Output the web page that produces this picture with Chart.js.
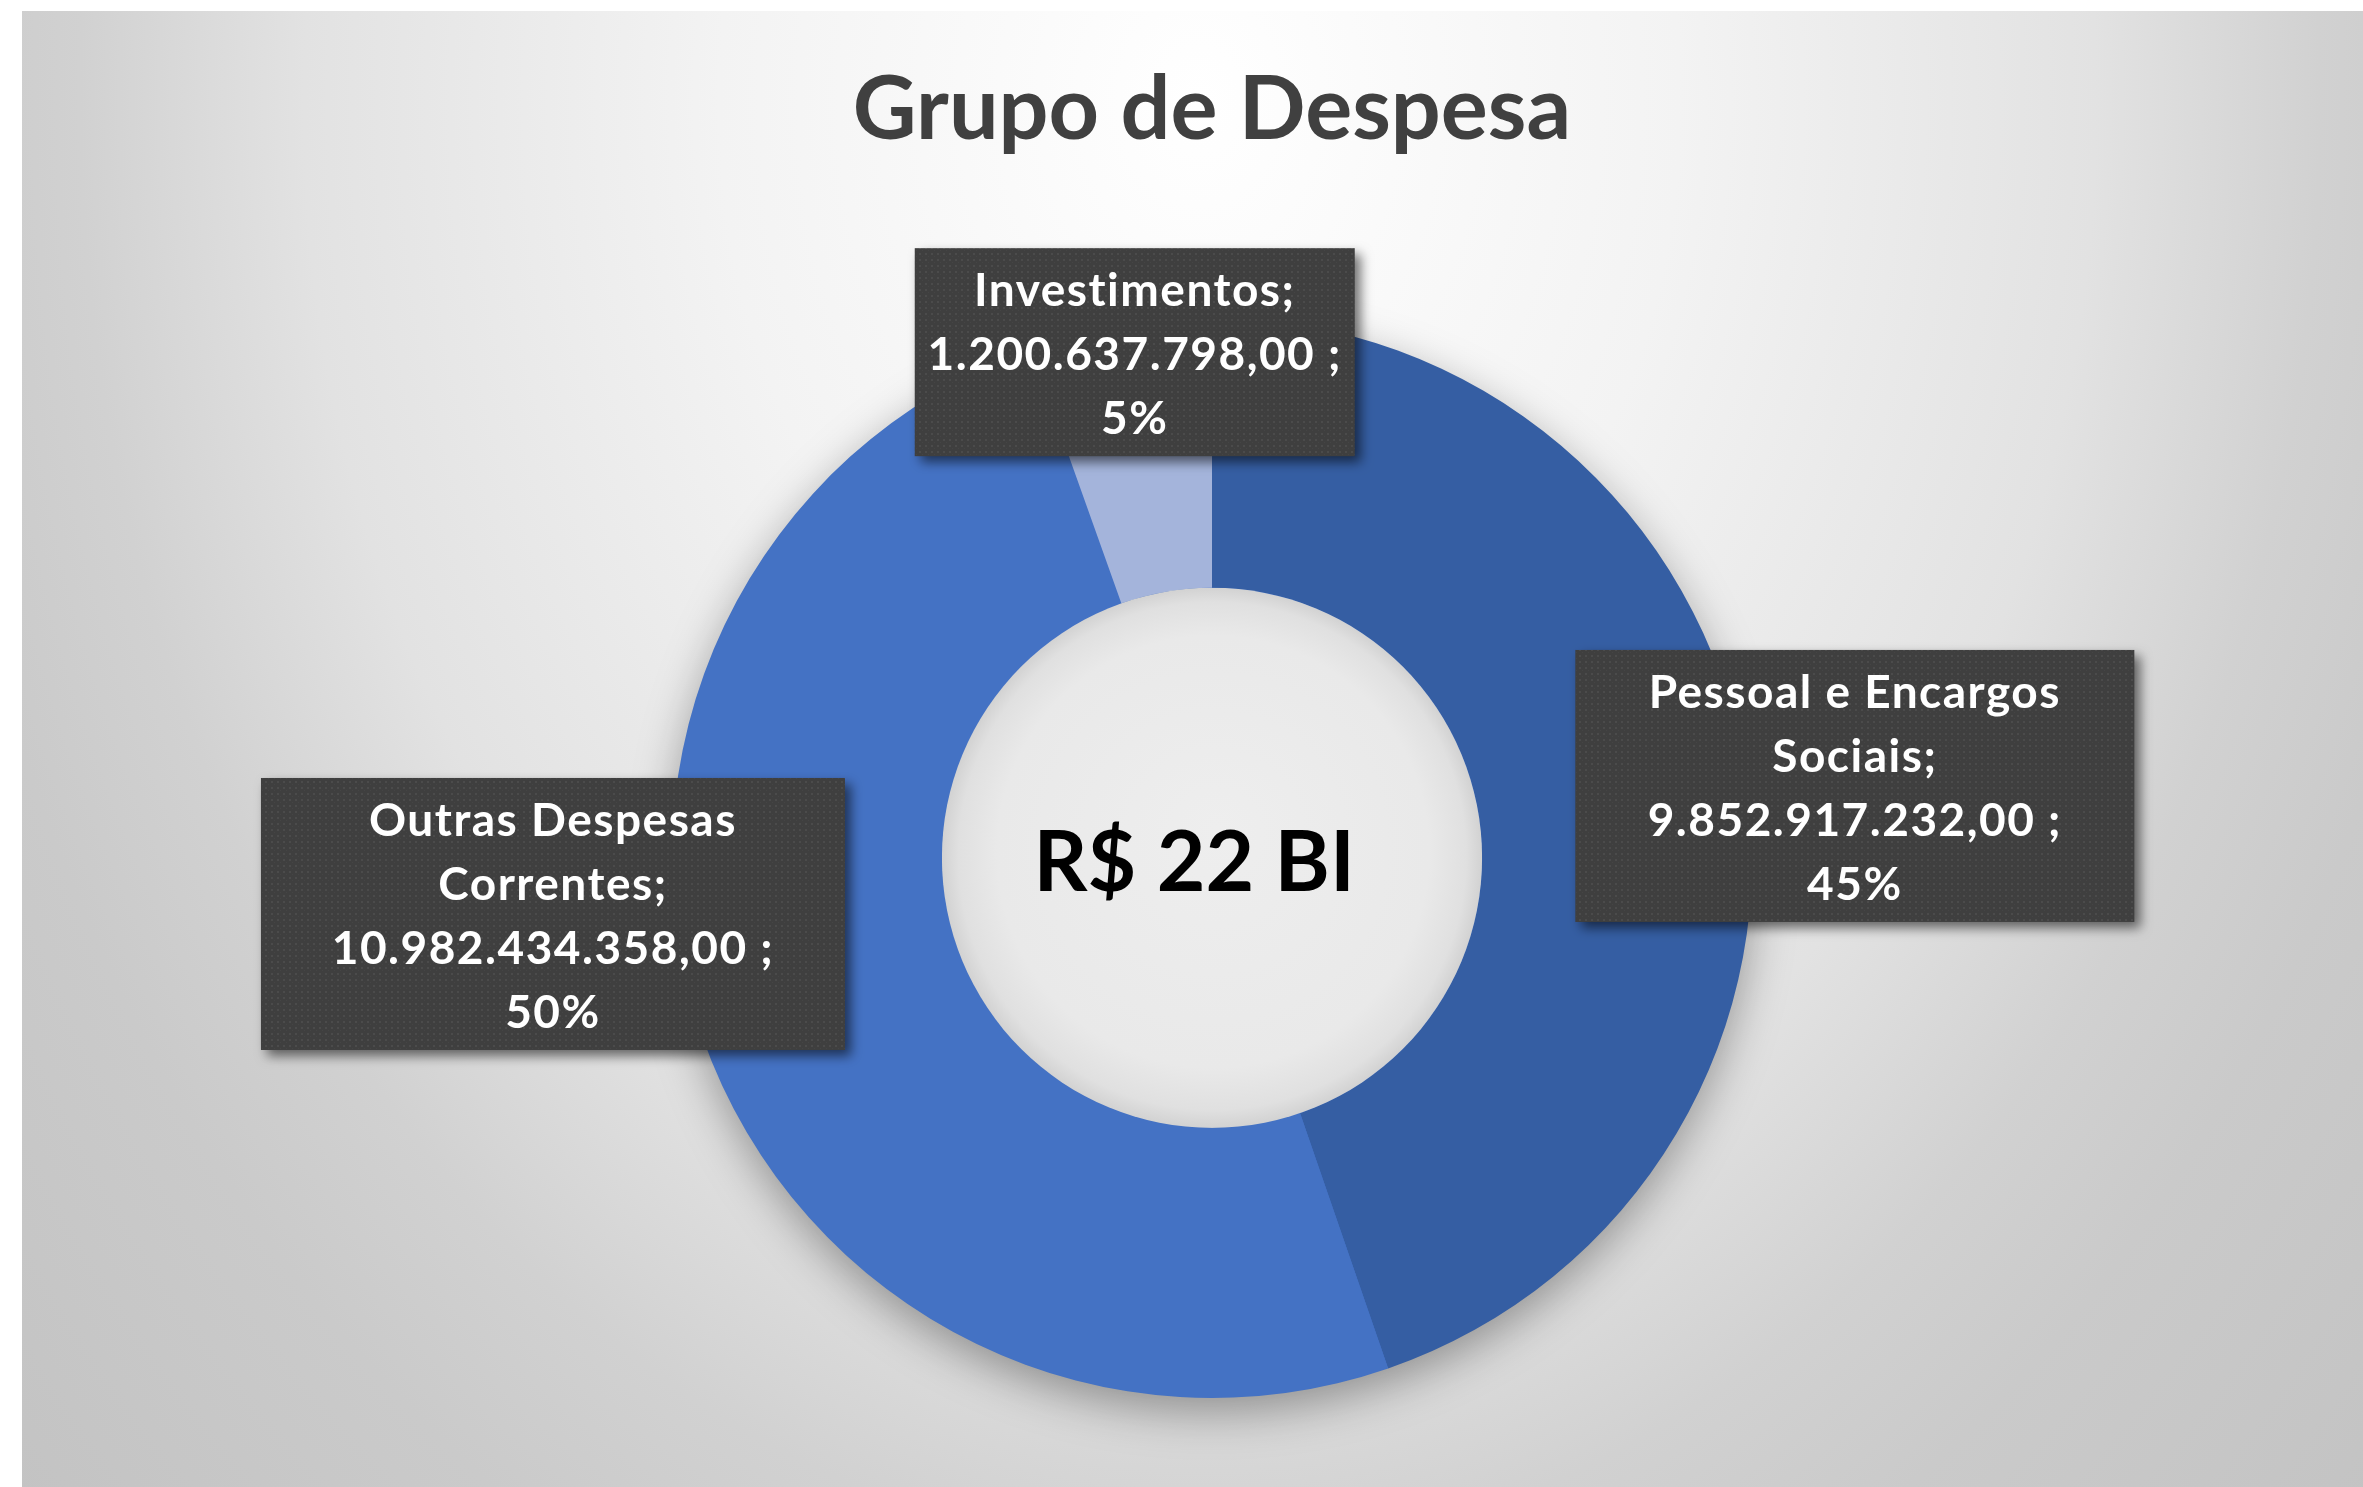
<!DOCTYPE html>
<html>
<head>
<meta charset="utf-8">
<script src="https://cdn.jsdelivr.net/npm/chart.js@4.4.1/dist/chart.umd.min.js"></script>
<style>
  html, body { margin: 0; padding: 0; background: #ffffff; }
  #wrap { width: 2363px; height: 1487px; }
</style>
</head>
<body>
<div id="wrap"><canvas id="c" width="2363" height="1487"></canvas></div>
<script>
// ---- DATA ----
const chartTitle = 'Grupo de Despesa';
const categories = ['Pessoal e Encargos Sociais', 'Outras Despesas Correntes', 'Investimentos'];
const values = [9852917232.00, 10982434358.00, 1200637798.00];
const sliceColors = ['#355EA3', '#4472C4', '#A4B4DB'];

// ---- LAYOUT (label box placement in units of the outer radius) ----
const labelLayout = [
  { dx: 1.190, dy: -0.133, w: 559 },
  { dx: -1.220, dy: 0.104, w: 584 },
  { dx: -0.143, dy: -0.936, w: 440 }
];

const total = values.reduce((a, b) => a + b, 0);
function fmtBR(v) {
  const parts = v.toFixed(2).split('.');
  return parts[0].replace(/\B(?=(\d{3})+(?!\d))/g, '.') + ',' + parts[1];
}
const centerText = 'R$ ' + Math.round(total / 1e9) + ' BI';

const FONT = 'Lato, "Open Sans", "DejaVu Sans", sans-serif';

function makePattern(ctx) {
  const p = document.createElement('canvas');
  p.width = 6; p.height = 6;
  const pc = p.getContext('2d');
  pc.fillStyle = '#3f3f3f';
  pc.fillRect(0, 0, 6, 6);
  pc.fillStyle = '#4b4b4b';
  pc.fillRect(1, 1, 2, 2);
  pc.fillStyle = '#454545';
  pc.fillRect(4, 4, 1, 1);
  return ctx.createPattern(p, 'repeat');
}

function wrapWords(ctx, text, maxW) {
  const words = text.split(' ');
  const lines = [];
  let cur = '';
  for (const w of words) {
    const test = cur ? cur + ' ' + w : w;
    if (ctx.measureText(test).width > maxW && cur) {
      lines.push(cur);
      cur = w;
    } else {
      cur = test;
    }
  }
  if (cur) lines.push(cur);
  return lines;
}

const decorPlugin = {
  id: 'decor',
  beforeDraw(chart) {
    const ctx = chart.ctx;
    const W = chart.width, H = chart.height;
    ctx.save();
    ctx.fillStyle = '#ffffff';
    ctx.fillRect(0, 0, W, H);
    ctx.beginPath();
    ctx.rect(22, 11, W - 22, H - 11);
    ctx.clip();
    ctx.translate(1200, 100);
    ctx.scale(1, 1.3);
    const g = ctx.createRadialGradient(0, 0, 0, 0, 0, 1600);
    g.addColorStop(0, '#ffffff');
    g.addColorStop(0.3, '#f3f3f3');
    g.addColorStop(0.56, '#e2e2e2');
    g.addColorStop(0.7, '#d1d1d1');
    g.addColorStop(0.8, '#cacaca');
    g.addColorStop(1, '#c3c3c3');
    ctx.fillStyle = g;
    ctx.fillRect(-1300, -200, 3000, 1400);
    ctx.restore();
  },
  beforeDatasetsDraw(chart) {
    const arc = chart.getDatasetMeta(0).data[0];
    if (!arc) return;
    const ctx = chart.ctx;
    ctx.save();
    ctx.shadowColor = 'rgba(0,0,0,0.35)';
    ctx.shadowBlur = 45;
    ctx.shadowOffsetY = 14;
    ctx.fillStyle = '#4472C4';
    ctx.beginPath();
    ctx.arc(arc.x, arc.y, arc.outerRadius - 1, 0, Math.PI * 2);
    ctx.fill();
    ctx.restore();
  },
  afterDatasetsDraw(chart) {
    const arc = chart.getDatasetMeta(0).data[0];
    if (!arc) return;
    const ctx = chart.ctx;
    const cx = arc.x, cy = arc.y, r = arc.innerRadius;
    ctx.save();
    ctx.beginPath();
    ctx.arc(cx, cy, r, 0, Math.PI * 2);
    ctx.clip();
    const g = ctx.createRadialGradient(cx + 5, cy - 30, 0, cx, cy, r);
    g.addColorStop(0, '#eeeeee');
    g.addColorStop(0.8, '#e9e9e9');
    g.addColorStop(0.94, '#e0e0e0');
    g.addColorStop(1, '#d2d2d2');
    ctx.fillStyle = g;
    ctx.fillRect(cx - r, cy - r, 2 * r, 2 * r);
    ctx.restore();

    // center text
    ctx.save();
    ctx.fillStyle = '#000000';
    ctx.font = 'bold 84px ' + FONT;
    ctx.textAlign = 'center';
    ctx.textBaseline = 'middle';
    ctx.fillText(centerText, cx - 0.033 * arc.outerRadius, cy + 6);
    ctx.restore();
  },
  afterDraw(chart) {
    const meta = chart.getDatasetMeta(0);
    const ctx = chart.ctx;
    const pattern = makePattern(ctx);
    const lineH = 64, padV = 8;
    meta.data.forEach((arc, i) => {
      const L = labelLayout[i];
      const R = arc.outerRadius;
      const bx = arc.x + L.dx * R, by = arc.y + L.dy * R;
      ctx.save();
      ctx.font = 'bold 46px ' + FONT;
      if ('letterSpacing' in ctx) ctx.letterSpacing = '1.5px';
      const nameLines = wrapWords(ctx, categories[i] + ';', L.w - 40);
      const lines = nameLines.concat([fmtBR(values[i]) + ' ;', Math.round(values[i] / total * 100) + '%']);
      const h = lines.length * lineH + 2 * padV;
      const x0 = bx - L.w / 2, y0 = by - h / 2;
      ctx.shadowColor = 'rgba(0,0,0,0.55)';
      ctx.shadowBlur = 12;
      ctx.shadowOffsetX = 6;
      ctx.shadowOffsetY = 6;
      ctx.fillStyle = pattern;
      ctx.fillRect(x0, y0, L.w, h);
      ctx.shadowColor = 'transparent';
      ctx.fillStyle = '#ffffff';
      ctx.textAlign = 'center';
      ctx.textBaseline = 'middle';
      lines.forEach((t, k) => {
        ctx.fillText(t, bx, y0 + padV + lineH * k + lineH / 2 + 3);
      });
      ctx.restore();
    });
  }
};

new Chart(document.getElementById('c'), {
  type: 'doughnut',
  data: {
    labels: categories,
    datasets: [{
      data: values,
      backgroundColor: sliceColors,
      borderWidth: 0,
      hoverOffset: 0
    }]
  },
  options: {
    responsive: false,
    animation: false,
    cutout: '50%',
    layout: { padding: { top: 0, bottom: 89, left: 200, right: 139 } },
    plugins: {
      legend: { display: false },
      tooltip: { enabled: false },
      title: {
        display: true,
        text: chartTitle,
        color: '#404040',
        font: { family: FONT, size: 88, weight: 'bold', lineHeight: 1.2 },
        padding: { top: 58, bottom: 154 }
      }
    }
  },
  plugins: [decorPlugin]
});
</script>
</body>
</html>
